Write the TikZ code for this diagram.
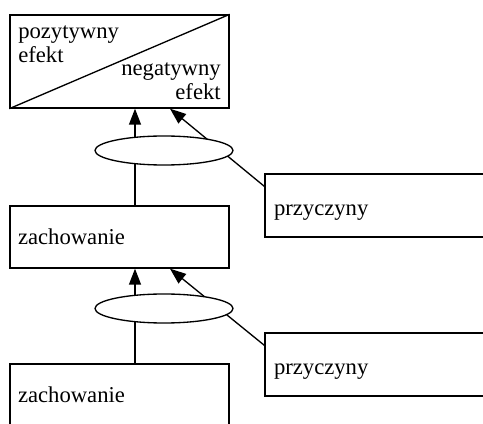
\documentclass[tikz,border=0pt]{standalone}
\usepackage{fontspec}
\setmainfont{Liberation Serif}
\usetikzlibrary{arrows.meta,shapes.geometric,calc}
\newlength\pxu
\setlength\pxu{0.75pt}
\begin{document}
\begin{tikzpicture}[x=0.75pt,y=-0.75pt,
  every node/.style={font=\fontsize{17}{17.5}\selectfont},
  frame/.style={draw,line width=1pt,rectangle,inner ysep=0pt},
  zbox/.style={frame,minimum width=219\pxu,minimum height=62\pxu,inner xsep=8\pxu,text width=203\pxu,align=left,text height=12pt,text depth=0pt},
  pbox/.style={frame,minimum width=225\pxu,minimum height=63\pxu,inner xsep=9\pxu,text width=207\pxu,align=left,text height=15.75pt,text depth=0pt},
  oval/.style={draw,line width=1pt,ellipse,fill=white,minimum width=138\pxu,minimum height=29\pxu,inner sep=0pt},
  link/.style={line width=1pt,-{Triangle[length=12pt,width=9pt]}},
  txt/.style={inner sep=0pt}]
\useasboundingbox (0,0) rectangle (483,424);
\clip (0,0) rectangle (483,424);
% boxes
\node[frame,minimum width=219\pxu,minimum height=93\pxu,inner sep=0pt] (top) at (119.5,61.5) {};
\draw[line width=1pt] (top.south west) -- (top.north east);
\node[txt,anchor=base west] (pos) at (18,39) {\begin{tabular}[t]{@{}l@{}}pozytywny\\efekt\end{tabular}};
\node[txt,anchor=base east] (neg) at (221,76) {\begin{tabular}[t]{@{}r@{}}negatywny\\efekt\end{tabular}};
\node[zbox] (z1) at (119.5,237) {zachowanie};
\node[zbox] (z2) at (119.5,395) {zachowanie};
\node[pbox] (p1) at (377.5,205.5) {przyczyny};
\node[pbox] (p2) at (377.5,364.5) {przyczyny};
% helper x positions
\coordinate (vx) at (135,0);
\coordinate (dx) at (170,0);
% connectors
\draw[link] (z1.north -| vx) -- (top.south -| vx);
\draw[link] ($(p1.north west)+(0,13)$) -- (top.south -| dx);
\draw[link] (z2.north -| vx) -- (z1.south -| vx);
\draw[link] ($(p2.north west)+(0,13)$) -- (z1.south -| dx);
% ellipses on top
\node[oval] (e1) at (164,150.5) {};
\node[oval] (e2) at (164,308.5) {};
\end{tikzpicture}
\end{document}
